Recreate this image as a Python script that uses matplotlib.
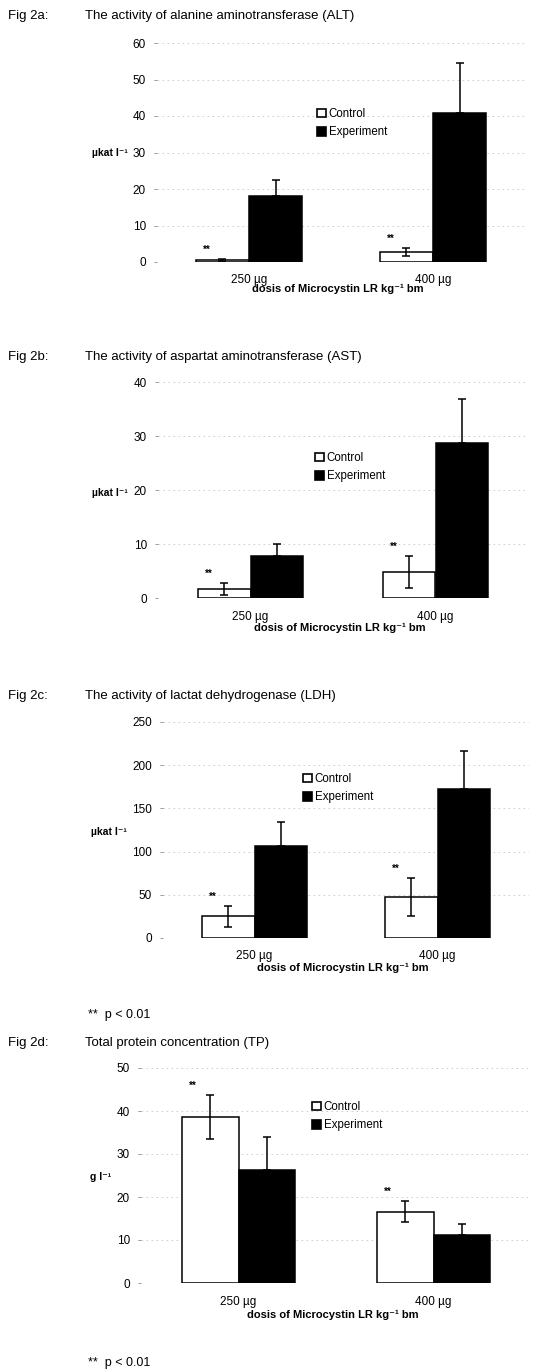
import matplotlib
matplotlib.use("Agg")
import matplotlib.pyplot as plt
from matplotlib.patches import Patch

plt.rcParams['font.family'] = ['Liberation Sans', 'DejaVu Sans']

# data (means and SD)
doses = ['250 µg', '400 µg']
panels = ['Fig 2a:', 'Fig 2b:', 'Fig 2c:', 'Fig 2d:']
titles = ['The activity of alanine aminotransferase (ALT)',
          'The activity of aspartat aminotransferase (AST)',
          'The activity of lactat dehydrogenase (LDH)',
          'Total protein concentration (TP)']
ylabels = ['µkat l⁻¹', 'µkat l⁻¹', 'µkat l⁻¹', 'g l⁻¹']
ymax = [60, 40, 250, 50]
ystep = [10, 10, 50, 10]

alt_control = [0.5, 2.8]
alt_control_sd = [0.2, 1.1]
alt_exp = [18.0, 40.8]
alt_exp_sd = [4.5, 13.7]

ast_control = [1.7, 4.8]
ast_control_sd = [1.1, 3.0]
ast_exp = [7.8, 28.7]
ast_exp_sd = [2.2, 8.1]

ldh_control = [25, 47]
ldh_control_sd = [12, 22]
ldh_exp = [106, 172]
ldh_exp_sd = [28, 44]

tp_control = [38.6, 16.6]
tp_control_sd = [5.1, 2.5]
tp_exp = [26.3, 11.2]
tp_exp_sd = [7.6, 2.5]

controls = [alt_control, ast_control, ldh_control, tp_control]
controls_sd = [alt_control_sd, ast_control_sd, ldh_control_sd, tp_control_sd]
exps = [alt_exp, ast_exp, ldh_exp, tp_exp]
exps_sd = [alt_exp_sd, ast_exp_sd, ldh_exp_sd, tp_exp_sd]

W, H = 536, 1372


def px(x, y):
    return x / W, 1 - y / H


# axes boxes in pixels: left, right, top(ymax), bottom(0)
boxes = [(157, 525, 43, 262), (158, 528, 382, 598),
         (163, 529, 722, 938), (141, 531, 1068, 1283)]
title_y = [16, 357, 696, 1043]
ylab_pos = [(128, 153), (128, 493), (127, 832), (111, 1177)]
xlab_y = [289, 628, 968, 1315]
leg_pos = [(317, 108), (315, 452), (303, 773), (312, 1101)]
bar_w = [0.29, 0.285, 0.285, 0.29]

fig = plt.figure(figsize=(W / 100, H / 100), dpi=100)

for i in range(4):
    l, r, t, b = boxes[i]
    ax = fig.add_axes([l / W, 1 - b / H, (r - l) / W, (b - t) / H])
    w = bar_w[i]
    xs = [0, 1]
    xc = [x - w / 2 for x in xs]
    xe = [x + w / 2 for x in xs]
    ax.bar(xc, controls[i], w, color='white', edgecolor='black', linewidth=1.1, zorder=3)
    ax.bar(xe, exps[i], w, color='black', edgecolor='black', linewidth=1.1, zorder=3)
    ax.errorbar(xc, controls[i], yerr=controls_sd[i], fmt='none', ecolor='black',
                elinewidth=1.1, capsize=3, capthick=1.1, zorder=4)
    ax.errorbar(xe, exps[i], yerr=[[0, 0], exps_sd[i]], fmt='none', ecolor='black',
                elinewidth=1.1, capsize=3, capthick=1.1, zorder=4)
    # significance marks
    for k in range(2):
        top = controls[i][k] + controls_sd[i][k]
        ax.annotate('**', (xc[k] - w * 0.3, top), xytext=(0, 3), textcoords='offset points',
                    ha='center', va='bottom', fontsize=7, fontweight='bold')

    ax.set_xlim(-0.5, 1.5)
    ax.set_ylim(0, ymax[i])
    ax.set_yticks(range(0, ymax[i] + 1, ystep[i]))
    ax.set_xticks(xs)
    ax.set_xticklabels(doses, fontsize=8.5)
    ax.tick_params(axis='x', length=0, pad=9)
    ax.tick_params(axis='y', length=2, width=0.6, color='#888888', labelsize=8.5, pad=6)
    for s in ax.spines.values():
        s.set_visible(False)
    ax.grid(axis='y', color='#c8c8c8', linestyle=(0, (2, 4)), linewidth=0.6, zorder=0)
    ax.set_axisbelow(True)

    fig.text(*px(8, title_y[i]), panels[i], fontsize=9.5, va='center', ha='left')
    fig.text(*px(85, title_y[i]), titles[i], fontsize=9.5, va='center', ha='left')
    fig.text(*px(*ylab_pos[i]), ylabels[i], fontsize=7.5, fontweight='bold', ha='right', va='center')
    xc_mid = (l + r) / 2
    fig.text(*px(xc_mid - 3, xlab_y[i]), 'dosis of Microcystin LR kg⁻¹ bm', fontsize=8,
             fontweight='bold', ha='center', va='center')

    handles = [Patch(facecolor='white', edgecolor='black', linewidth=1.2),
               Patch(facecolor='black', edgecolor='black', linewidth=1.2)]
    fig.legend(handles, ['Control', 'Experiment'], loc='upper left',
               bbox_to_anchor=px(*leg_pos[i]), frameon=False, fontsize=8.3,
               handlelength=0.8, handleheight=0.8, handletextpad=0.2,
               labelspacing=0.55, borderaxespad=0, borderpad=0)

fig.text(*px(88, 1015), '**  p < 0.01', fontsize=9, va='center', ha='left')
fig.text(*px(88, 1363), '**  p < 0.01', fontsize=9, va='center', ha='left')

fig.savefig('out.png', dpi=100, facecolor='white')
